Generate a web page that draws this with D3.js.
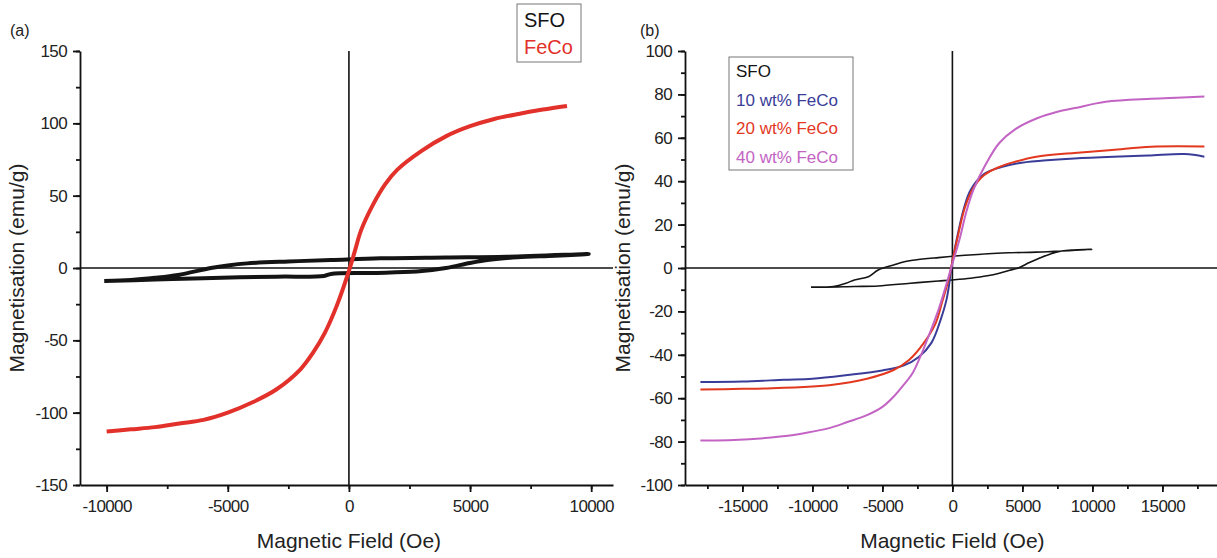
<!DOCTYPE html>
<html>
<head>
<meta charset="utf-8">
<script src="https://cdn.jsdelivr.net/npm/d3@7"></script>
<style>
  body { margin: 0; background: #fff; }
  svg text { font-family: "Liberation Sans", Arial, sans-serif; fill: #222; }
</style>
</head>
<body>
<div id="chart"></div>
<script>
// panel (a) data, [field (Oe), magnetisation (emu/g)]
const feCoA = [[-10000,-113],[-9000,-111.5],[-8000,-110],[-7000,-107.5],[-6000,-105],[-5000,-100],
  [-4000,-93],[-3000,-84],[-2000,-70],[-1500,-59],[-1000,-45],[-500,-26],[0,-2],[250,12],[500,26],
  [1000,44],[1500,58],[2000,68],[3000,81],[4000,91],[5000,98],[6000,103],[7000,106.5],[8000,109.5],[9000,112]];

const sfoA = [[-10100,-9],[-8000,-8],[-6000,-7],[-3000,-6],[-1030,-5.5],[-740,-4.1],[900,-3.4],
  [2800,-2.5],[4000,0],[5000,3.5],[5800,5.7],[6950,7.4],[8500,8.5],[9900,9.7],
  [6500,7.8],[4000,7.3],[1300,6.7],[-740,5.5],[-2500,4.5],[-4200,3.2],[-5000,1.8],[-5700,0],
  [-7050,-4.8],[-8000,-6.8],[-9000,-8.3],[-10100,-9]];

// panel (b) data
const sfoB = [[-10100,-8.8],[-9000,-8.8],[-7000,-8.5],[-5300,-8.3],[-3000,-7],[-1000,-6],[0,-5.5],
  [1300,-4.7],[2500,-3.6],[3350,-2.4],[4100,-1],[4700,0],[5500,2.5],[6200,4.5],[7000,6.5],[7800,7.8],
  [8600,8.3],[10000,8.6],[7800,7.8],[6000,7.3],[4000,7],[2550,6.6],[200,5.5],[-1000,4.8],[-2650,3.7],
  [-3500,2.8],[-4200,1.4],[-5300,-0.9],[-6000,-4],[-7000,-5.5],[-7600,-7],[-8500,-8.5],[-10100,-8.8]];

const feCo10 = [[-18000,-52.5],[-15000,-52.3],[-12000,-51.5],[-10000,-51],[-7500,-49.3],[-5000,-47.2],
  [-3500,-45],[-2400,-41],[-1500,-34.5],[-850,-24],[-400,-14],[0,3],[400,16],[800,27],[1300,36],
  [2300,43.5],[3500,46.5],[4700,48.3],[6500,49.5],[8700,50.5],[11500,51.3],[14000,51.8],[16600,52.5],[18000,51.3]];

const feCo20 = [[-18000,-56],[-15000,-55.7],[-12900,-55.4],[-10000,-54.6],[-8800,-54],[-6100,-51],
  [-4200,-47],[-3100,-42.4],[-2050,-34.6],[-1200,-25.5],[-700,-15],[-300,-6],[0,3],[400,15],[900,28],
  [1500,37],[2300,43],[3400,46.7],[4500,49],[6000,51.3],[8700,53],[11400,54.4],[14200,55.9],[18000,56]];

const feCo40 = [[-18000,-79.5],[-15600,-79.3],[-12300,-77.7],[-10500,-76],[-8800,-73.8],[-7500,-71],
  [-6100,-67.8],[-5000,-64],[-4200,-59.3],[-3500,-54],[-2850,-48.5],[-2300,-41],[-1800,-33],[-1000,-19.4],
  [-500,-9],[0,2],[500,13],[1000,26],[1500,36],[2400,48],[3350,57.6],[4500,64],[6050,69],[7500,72],
  [8750,73.7],[10950,76.6],[14200,78],[16000,78.5],[18000,79]];

const xTicksA = [-10000, -5000, 0, 5000, 10000];
const yTicksA = [-150, -100, -50, 0, 50, 100, 150];
const xTicksB = [-15000, -10000, -5000, 0, 5000, 10000, 15000];
const yTicksB = [-100, -80, -60, -40, -20, 0, 20, 40, 60, 80, 100];

const legendA = ["SFO", "FeCo"];
const legendB = ["SFO", "10 wt% FeCo", "20 wt% FeCo", "40 wt% FeCo"];

const W = 1217, H = 558;
const svg = d3.select("#chart").append("svg")
  .attr("width", W).attr("height", H);

function panel(opt) {
  let x = d3.scaleLinear().domain(opt.xDomain).range(opt.xRange);
  let y = d3.scaleLinear().domain(opt.yDomain).range([485, 51]);
  let g = svg.append("g");

  // zero lines
  g.append("line")
    .attr("x1", opt.xRange[0]).attr("x2", opt.xRange[1])
    .attr("y1", y(0)).attr("y2", y(0))
    .style("stroke", "#111").style("stroke-width", 1.6);
  g.append("line")
    .attr("x1", x(0)).attr("x2", x(0))
    .attr("y1", y(opt.yDomain[1])).attr("y2", y(opt.yDomain[0]))
    .style("stroke", "#111").style("stroke-width", 1.6);

  // minor ticks
  g.append("g")
    .attr("transform", "translate(0,485)")
    .call(d3.axisBottom(x).tickValues(opt.xMinor).tickSize(4).tickFormat(""))
    .call(a => a.select(".domain").remove());
  g.append("g")
    .attr("transform", "translate(" + opt.xRange[0] + ",0)")
    .call(d3.axisLeft(y).tickValues(opt.yMinor).tickSize(4).tickFormat(""))
    .call(a => a.select(".domain").remove());

  // major axes, plain hyphen minus and no thousands separator
  let fmt = d => String(d);
  let xa = g.append("g")
    .attr("transform", "translate(0,485)")
    .call(d3.axisBottom(x).tickValues(opt.xTicks).tickFormat(fmt)
      .tickSize(7).tickSizeOuter(0).tickPadding(8));
  let ya = g.append("g")
    .attr("transform", "translate(" + opt.xRange[0] + ",0)")
    .call(d3.axisLeft(y).tickValues(opt.yTicks).tickFormat(fmt)
      .tickSize(7).tickSizeOuter(0).tickPadding(6));
  [xa, ya].forEach(a => {
    a.selectAll("text").style("font-size", "17px").style("letter-spacing", "-0.6px");
  });
  g.selectAll(".domain, .tick line").style("stroke", "#111").style("stroke-width", 1.8);

  let line = d3.line()
    .x(d => x(d[0]))
    .y(d => y(d[1]))
    .curve(d3.curveCatmullRom.alpha(0.5));

  opt.series.forEach(s => {
    g.append("path")
      .datum(s.data)
      .attr("d", line)
      .style("fill", "none")
      .style("stroke", s.color)
      .style("stroke-width", s.width)
      .style("stroke-linejoin", "round");
  });

  // titles
  g.append("text")
    .attr("x", x(0)).attr("y", 548)
    .attr("text-anchor", "middle")
    .style("font-size", "21px")
    .text("Magnetic Field (Oe)");
  g.append("text")
    .attr("transform", "translate(" + opt.yTitleX + ",268) rotate(-90)")
    .attr("text-anchor", "middle")
    .style("font-size", "21px")
    .text("Magnetisation (emu/g)");
  g.append("text")
    .attr("x", opt.tagX).attr("y", 36)
    .style("font-size", "16px")
    .text(opt.tag);
}

function minorOf(step, lo, hi) {
  let out = [];
  for (let v = lo; v <= hi; v += step) out.push(v);
  return out;
}

panel({
  xDomain: [-11100, 10900], xRange: [80, 613],
  yDomain: [-150, 150],
  xTicks: xTicksA, yTicks: yTicksA,
  xMinor: minorOf(2500, -10000, 10000), yMinor: minorOf(25, -150, 150),
  yTitleX: 24, tagX: 10, tag: "(a)",
  series: [
    {data: sfoA, color: "#141414", width: 4},
    {data: feCoA, color: "#e2302a", width: 4}
  ]
});

panel({
  xDomain: [-19100, 18900], xRange: [685, 1217],
  yDomain: [-100, 100],
  xTicks: xTicksB, yTicks: yTicksB,
  xMinor: minorOf(2500, -17500, 17500), yMinor: minorOf(10, -100, 100),
  yTitleX: 630, tagX: 640, tag: "(b)",
  series: [
    {data: sfoB, color: "#141414", width: 1.6},
    {data: feCo10, color: "#3a3d98", width: 2},
    {data: feCo20, color: "#e2381f", width: 2},
    {data: feCo40, color: "#c364c4", width: 2}
  ]
});

// legends
const colA = ["#141414", "#e2302a"];
svg.append("rect")
  .attr("x", 517).attr("y", 4).attr("width", 64).attr("height", 58)
  .style("fill", "#fff").style("stroke", "#777").style("stroke-width", 1);
svg.selectAll(".legA").data(legendA).enter().append("text")
  .attr("x", 524).attr("y", (d, i) => 27 + i * 27)
  .style("font-size", "20px")
  .style("fill", (d, i) => colA[i])
  .text(d => d);

const colB = ["#141414", "#3a3d98", "#e2381f", "#c364c4"];
svg.append("rect")
  .attr("x", 729).attr("y", 57).attr("width", 124).attr("height", 113)
  .style("fill", "#fff").style("stroke", "#777").style("stroke-width", 1);
svg.selectAll(".legB").data(legendB).enter().append("text")
  .attr("x", 736).attr("y", (d, i) => 77 + i * 28.7)
  .style("font-size", "17px")
  .style("fill", (d, i) => colB[i])
  .text(d => d);
</script>
</body>
</html>
